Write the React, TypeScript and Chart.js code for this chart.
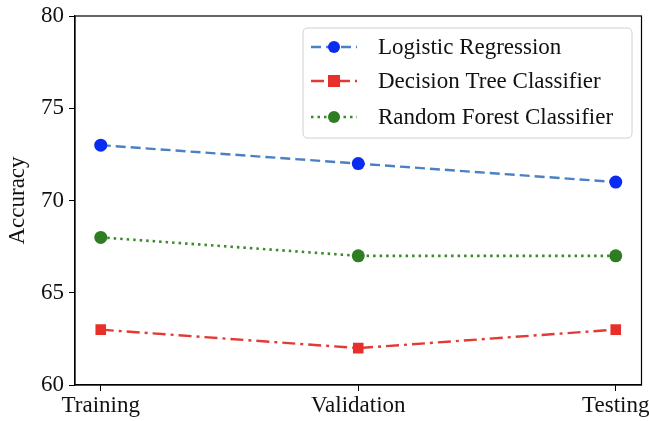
import React, { useEffect, useRef } from "react";
import { Chart, registerables } from "chart.js";

Chart.register(...registerables);

const categories = ["Training", "Validation", "Testing"];
const logisticRegression = [73, 72, 71];
const decisionTree = [63, 62, 63];
const randomForest = [68, 67, 67];
const yTicks = [60, 65, 70, 75, 80];

const FONT = "'Liberation Serif', 'DejaVu Serif', serif";
const FS = 23;

const frameAndLegend = {
  id: "frameAndLegend",
  afterDraw(chart: any) {
    const ctx = chart.ctx;
    const a = chart.chartArea;
    ctx.save();
    ctx.strokeStyle = "#000";
    ctx.lineWidth = 1.2;
    ctx.setLineDash([]);
    ctx.strokeRect(a.left, a.top, a.right - a.left, a.bottom - a.top);

    // legend
    const bx = 303, by = 28, bw = 329, bh = 110, r = 5;
    ctx.fillStyle = "rgba(255,255,255,0.85)";
    ctx.strokeStyle = "#d0d0d0";
    ctx.lineWidth = 1;
    ctx.beginPath();
    ctx.moveTo(bx + r, by);
    ctx.lineTo(bx + bw - r, by);
    ctx.quadraticCurveTo(bx + bw, by, bx + bw, by + r);
    ctx.lineTo(bx + bw, by + bh - r);
    ctx.quadraticCurveTo(bx + bw, by + bh, bx + bw - r, by + bh);
    ctx.lineTo(bx + r, by + bh);
    ctx.quadraticCurveTo(bx, by + bh, bx, by + bh - r);
    ctx.lineTo(bx, by + r);
    ctx.quadraticCurveTo(bx, by, bx + r, by);
    ctx.closePath();
    ctx.fill();
    ctx.stroke();

    const rows = [47, 81, 117];
    chart.data.datasets.forEach((ds: any, i: number) => {
      const y = rows[i];
      ctx.strokeStyle = ds.borderColor;
      ctx.lineWidth = ds.borderWidth;
      ctx.setLineDash(ds.borderDash || []);
      ctx.beginPath();
      ctx.moveTo(311, y);
      ctx.lineTo(357, y);
      ctx.stroke();
      ctx.setLineDash([]);
      ctx.fillStyle = ds.pointBackgroundColor;
      if (ds.pointStyle === "rect") {
        ctx.fillRect(334 - 6, y - 6, 12, 12);
      } else {
        ctx.beginPath();
        ctx.arc(334, y, 6, 0, Math.PI * 2);
        ctx.fill();
      }
      ctx.fillStyle = "#111";
      ctx.font = `${FS}px ${FONT}`;
      ctx.textBaseline = "middle";
      ctx.textAlign = "left";
      ctx.fillText(ds.label, 378, y + 1);
    });
    ctx.restore();
  },
};

export default function App() {
  const ref = useRef<HTMLCanvasElement>(null);
  useEffect(() => {
    const toPts = (arr: number[]) => arr.map((v, i) => ({ x: i, y: v }));
    const chart = new Chart(ref.current!, {
      type: "line",
      data: {
        datasets: [
          {
            label: "Logistic Regression",
            data: toPts(logisticRegression),
            borderColor: "#4a80c4",
            borderWidth: 2.4,
            borderDash: [10, 5],
            pointStyle: "circle",
            pointRadius: 6.5,
            pointBackgroundColor: "#0a2bf0",
            pointBorderColor: "#0a2bf0",
            pointBorderWidth: 0,
          },
          {
            label: "Decision Tree Classifier",
            data: toPts(decisionTree),
            borderColor: "#e23a35",
            borderWidth: 2.4,
            borderDash: [13, 5, 3, 5],
            pointStyle: "rect",
            pointRadius: 7.5,
            pointBackgroundColor: "#e8302a",
            pointBorderColor: "#e8302a",
            pointBorderWidth: 0,
          },
          {
            label: "Random Forest Classifier",
            data: toPts(randomForest),
            borderColor: "#3d8a2c",
            borderWidth: 2.6,
            borderDash: [2.5, 4],
            pointStyle: "circle",
            pointRadius: 6.5,
            pointBackgroundColor: "#2f7d22",
            pointBorderColor: "#2f7d22",
            pointBorderWidth: 0,
          },
        ],
      },
      options: {
        animation: false,
        responsive: false,
        layout: { padding: { top: 16, right: 7, left: 0, bottom: 0 } },
        plugins: { legend: { display: false }, tooltip: { enabled: false } },
        scales: {
          x: {
            type: "linear",
            min: -0.1,
            max: 2.1,
            afterBuildTicks: (scale: any) => {
              scale.ticks = categories.map((_, i) => ({ value: i }));
            },
            afterFit: (scale: any) => {
              scale.height = 36;
              scale.paddingLeft = 0;
              scale.paddingRight = 0;
            },
            ticks: {
              callback: (v: any) => categories[v as number] ?? "",
              color: "#111",
              font: { family: FONT, size: FS },
              padding: 1,
              maxRotation: 0,
              autoSkip: false,
            },
            grid: {
              drawOnChartArea: false,
              drawTicks: true,
              tickLength: 6,
              color: "#000",
            },
            border: { display: true, color: "#000", width: 1.2 },
          },
          y: {
            min: 60,
            max: 80,
            afterBuildTicks: (scale: any) => {
              scale.ticks = yTicks.map((v) => ({ value: v }));
            },
            afterFit: (scale: any) => {
              scale.width = 75;
              scale.paddingTop = 0;
              scale.paddingBottom = 0;
            },
            ticks: {
              color: "#111",
              font: { family: FONT, size: FS },
              padding: 5,
            },
            title: {
              display: true,
              text: "Accuracy",
              color: "#111",
              font: { family: FONT, size: FS },
              padding: { top: 4, bottom: 2 },
            },
            grid: {
              drawOnChartArea: false,
              drawTicks: true,
              tickLength: 6,
              color: "#000",
            },
            border: { display: true, color: "#000", width: 1.2 },
          },
        },
      },
      plugins: [frameAndLegend],
    } as any);
    return () => chart.destroy();
  }, []);
  return (
    <div style={{ position: "absolute", left: 0, top: 0, width: 649, height: 421, background: "#fff" }}>
      <canvas ref={ref} width={649} height={421} style={{ width: 649, height: 421 }} />
    </div>
  );
}
